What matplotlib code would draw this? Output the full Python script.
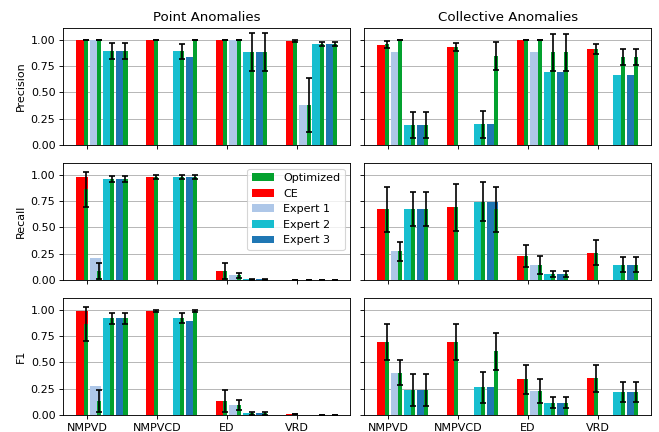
import matplotlib.pyplot as plt
import numpy as np

nan = np.nan

datasets = ['NMPVD', 'NMPVCD', 'ED', 'VRD']
methods = ['CE', 'Expert 1', 'Expert 2', 'Expert 3']
colors = ['#ff0000', '#aec7e8', '#17becf', '#1f77b4']
opt_color = '#03a12e'
metrics = ['Precision', 'Recall', 'F1']

# rows: dataset, cols: CE, Expert 1, Expert 2, Expert 3
point_precision = [[1.00, 1.00, 0.89, 0.89],
                   [1.00, 0.003, 0.89, 0.835],
                   [1.00, 1.00, 0.88, 0.88],
                   [0.984, 0.38, 0.962, 0.962]]
point_precision_opt = [[1.00, 1.00, 0.89, 0.89],
                       [1.00, nan, 0.89, 1.00],
                       [1.00, 1.00, 0.88, 0.88],
                       [0.984, 0.38, 0.962, 0.962]]
point_precision_err = [[0.0, 0.0, 0.075, 0.075],
                       [0.0, nan, 0.07, 0.0],
                       [0.0, 0.0, 0.18, 0.18],
                       [0.01, 0.26, 0.02, 0.02]]

point_recall = [[0.98, 0.21, 0.96, 0.96],
                [0.98, 0.003, 0.98, 0.98],
                [0.083, 0.048, 0.01, 0.01],
                [0.003, 0.003, 0.003, 0.003]]
point_recall_opt = [[0.86, 0.083, 0.96, 0.96],
                    [0.98, nan, 0.98, 0.98],
                    [0.083, 0.045, 0.01, 0.01],
                    [0.003, 0.003, 0.003, 0.003]]
point_recall_err = [[0.165, 0.075, 0.025, 0.025],
                    [0.02, nan, 0.02, 0.02],
                    [0.075, 0.025, 0.005, 0.005],
                    [0.0, 0.0, 0.0, 0.0]]

point_f1 = [[0.987, 0.277, 0.917, 0.917],
            [0.987, 0.004, 0.923, 0.891],
            [0.137, 0.092, 0.016, 0.016],
            [0.007, 0.004, 0.006, 0.006]]
point_f1_opt = [[0.866, 0.134, 0.917, 0.917],
                [0.987, nan, 0.923, 0.987],
                [0.137, 0.092, 0.016, 0.016],
                [0.007, nan, 0.006, 0.006]]
point_f1_err = [[0.16, 0.105, 0.05, 0.05],
                [0.01, nan, 0.05, 0.01],
                [0.105, 0.047, 0.01, 0.01],
                [0.0, nan, 0.0, 0.0]]

coll_precision = [[0.952, 0.879, 0.19, 0.19],
                  [0.933, 0.003, 0.20, 0.20],
                  [1.00, 0.879, 0.692, 0.692],
                  [0.911, 0.003, 0.667, 0.667]]
coll_precision_opt = [[0.955, 1.00, 0.19, 0.19],
                      [0.933, nan, 0.20, 0.848],
                      [1.00, 1.00, 0.879, 0.879],
                      [0.911, nan, 0.835, 0.835]]
coll_precision_err = [[0.033, 0.0, 0.123, 0.123],
                      [0.04, nan, 0.128, 0.132],
                      [0.0, 0.0, 0.178, 0.178],
                      [0.048, nan, 0.075, 0.075]]

coll_recall = [[0.673, 0.272, 0.673, 0.673],
               [0.689, 0.003, 0.743, 0.743],
               [0.231, 0.147, 0.058, 0.058],
               [0.262, 0.003, 0.147, 0.147]]
coll_recall_opt = [[0.673, 0.272, 0.673, 0.673],
                   [0.689, nan, 0.743, 0.673],
                   [0.231, 0.147, 0.058, 0.058],
                   [0.262, nan, 0.147, 0.147]]
coll_recall_err = [[0.215, 0.09, 0.16, 0.16],
                   [0.22, nan, 0.185, 0.215],
                   [0.103, 0.085, 0.032, 0.032],
                   [0.12, nan, 0.07, 0.07]]

coll_f1 = [[0.694, 0.404, 0.239, 0.239],
           [0.694, 0.003, 0.264, 0.264],
           [0.341, 0.229, 0.118, 0.118],
           [0.35, 0.003, 0.217, 0.217]]
coll_f1_opt = [[0.694, 0.404, 0.239, 0.239],
               [0.694, nan, 0.264, 0.605],
               [0.341, 0.229, 0.118, 0.118],
               [0.35, nan, 0.217, 0.217]]
coll_f1_err = [[0.175, 0.116, 0.15, 0.15],
               [0.175, nan, 0.148, 0.172],
               [0.137, 0.115, 0.052, 0.052],
               [0.13, nan, 0.095, 0.095]]

panels = [
    [(point_precision, point_precision_opt, point_precision_err),
     (coll_precision, coll_precision_opt, coll_precision_err)],
    [(point_recall, point_recall_opt, point_recall_err),
     (coll_recall, coll_recall_opt, coll_recall_err)],
    [(point_f1, point_f1_opt, point_f1_err),
     (coll_f1, coll_f1_opt, coll_f1_err)],
]

fig, axes = plt.subplots(3, 2, figsize=(659 / 80, 432 / 80), dpi=80, sharey=True, sharex=True)
fig.subplots_adjust(left=0.096, right=0.988, top=0.935, bottom=0.039, hspace=0.154, wspace=0.049)

x = np.arange(len(datasets))
step = 0.19
width = 0.163
opt_width = 0.058

for r in range(3):
    for c in range(2):
        ax = axes[r, c]
        base, opt, err = (np.array(a, dtype=float) for a in panels[r][c])
        for k in range(len(methods)):
            pos = x - 0.072 + k * step
            ax.bar(pos, base[:, k], width, color=colors[k], label=methods[k])
            opos = pos + width / 2 - opt_width / 2
            ax.bar(opos, opt[:, k], opt_width, color=opt_color, label='Optimized' if k == 0 else None)
            ax.errorbar(opos, opt[:, k], yerr=err[:, k], fmt='none', ecolor='black',
                        elinewidth=1.5, capsize=2.5, capthick=1.5)
        ax.set_ylim(0, 1.11)
        ax.set_xticks(x)
        ax.set_xticklabels(datasets)
        ax.grid(axis='y', color='#b0b0b0')
        ax.set_axisbelow(True)
    axes[r, 0].set_ylabel(metrics[r])

axes[0, 0].set_title('Point Anomalies')
axes[0, 1].set_title('Collective Anomalies')
axes[0, 0].set_yticks([0, 0.25, 0.5, 0.75, 1.0])

handles, labels = axes[1, 0].get_legend_handles_labels()
order = [labels.index(l) for l in ['Optimized', 'CE', 'Expert 1', 'Expert 2', 'Expert 3']]
axes[1, 0].legend([handles[i] for i in order], [labels[i] for i in order], loc='upper right')

fig.savefig('out.png')
